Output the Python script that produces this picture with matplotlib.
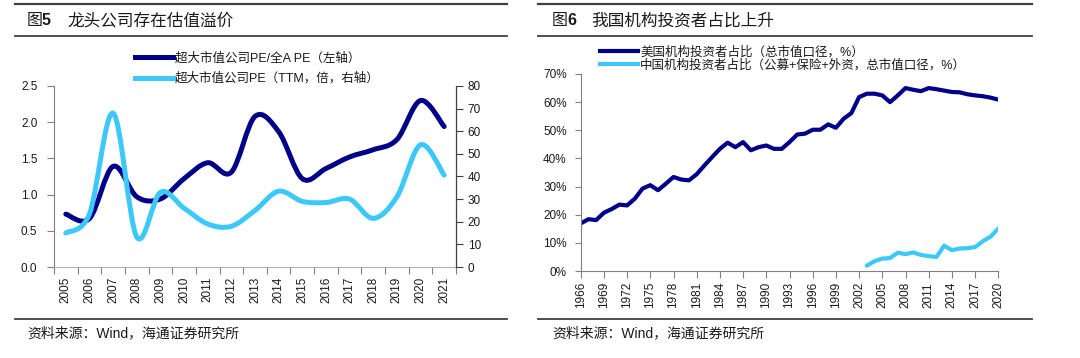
import numpy as np
import matplotlib
matplotlib.use("Agg")
import matplotlib.pyplot as plt
from matplotlib.path import Path
from matplotlib.patches import PathPatch
from matplotlib.lines import Line2D

plt.rcParams['font.family'] = ['Liberation Sans', 'Noto Sans CJK SC']
plt.rcParams['axes.unicode_minus'] = False

# ---------------- data ----------------
years_left = ['2005', '2006', '2007', '2008', '2009', '2010', '2011', '2012', '2013',
              '2014', '2015', '2016', '2017', '2018', '2019', '2020', '2021']
pe_ratio = [0.73, 0.67, 1.39, 0.97, 0.94, 1.22, 1.44, 1.31, 2.08,
            1.87, 1.22, 1.36, 1.52, 1.62, 1.76, 2.30, 1.94]
pe_ttm = [15.0, 23.5, 68.0, 13.3, 33.0, 26.0, 19.0, 18.0, 25.0,
          33.5, 29.0, 28.5, 30.0, 21.5, 31.0, 54.0, 40.6]

years_us = list(range(1966, 2021))
us_inst = [16.9, 18.4, 18.1, 20.7, 22.0, 23.6, 23.3, 25.7, 29.3, 30.5,
           28.7, 31.0, 33.4, 32.5, 32.2, 34.4, 37.5, 40.5, 43.4, 45.6,
           44.0, 45.8, 42.9, 44.0, 44.6, 43.4, 43.4, 45.8, 48.5, 48.8,
           50.2, 50.2, 52.1, 50.9, 54.1, 56.1, 61.8, 63.0, 63.0, 62.4,
           60.0, 62.4, 65.0, 64.4, 63.9, 65.0, 64.6, 64.1, 63.6, 63.5,
           62.8, 62.4, 62.1, 61.6, 60.9]
years_cn = list(range(2003, 2021))
cn_inst = [1.9, 3.5, 4.4, 4.6, 6.5, 6.0, 6.6, 5.7, 5.3, 5.0,
           9.0, 7.4, 8.0, 8.1, 8.5, 10.6, 12.2, 15.1]
us_ticks = list(range(1966, 2021, 3))

DARK = '#000088'
LIGHT = '#3CC8F8'
TXT = '#1a1a1a'
RULE = '#404040'


def smooth_path(xs, ys):
    pts = np.column_stack([np.asarray(xs, float), np.asarray(ys, float)])
    n = len(pts)
    verts = [pts[0]]
    codes = [Path.MOVETO]
    for i in range(n - 1):
        p0 = pts[i - 1] if i > 0 else pts[i]
        p1 = pts[i]
        p2 = pts[i + 1]
        p3 = pts[i + 2] if i + 2 < n else pts[i + 1]
        c1 = p1 + (p2 - p0) / 6.0
        c2 = p2 - (p3 - p1) / 6.0
        verts += [c1, c2, p2]
        codes += [Path.CURVE4] * 3
    return Path(verts, codes)


fig = plt.figure(figsize=(10.8, 3.58), dpi=100)
W, H = 1080.0, 358.0


def fx(px):
    return px / W


def fy(py):
    return 1 - py / H


# ---------------- rules, titles, footers ----------------
for (x0, x1) in [(15, 507), (538, 1032)]:
    fig.add_artist(Line2D([fx(x0), fx(x1)], [fy(3.5), fy(3.5)], color=RULE, lw=1.6))
    fig.add_artist(Line2D([fx(x0), fx(x1)], [fy(36), fy(36)], color=RULE, lw=1.3))
    fig.add_artist(Line2D([fx(x0), fx(x1)], [fy(319), fy(319)], color=RULE, lw=1.3))

ty = fy(20.5)
fig.text(fx(27), ty, '图', fontsize=11.5, va='center', color=TXT)
fig.text(fx(42), ty, '5', fontsize=11.5, fontweight='bold', va='center', color=TXT)
fig.text(fx(67), ty, '龙头公司存在估值溢价', fontsize=12, va='center', color=TXT)
fig.text(fx(552), ty, '图', fontsize=11.5, va='center', color=TXT)
fig.text(fx(567), ty, '6', fontsize=11.5, fontweight='bold', va='center', color=TXT)
fig.text(fx(591), ty, '我国机构投资者占比上升', fontsize=12, va='center', color=TXT)

fig.text(fx(27), fy(333), '资料来源：Wind，海通证券研究所', fontsize=10, va='center', color=TXT)
fig.text(fx(552), fy(333), '资料来源：Wind，海通证券研究所', fontsize=10, va='center', color=TXT)

# ---------------- left chart ----------------
ax = fig.add_axes([fx(54), fy(267), fx(456) - fx(54), fy(86) - fy(267)])
ax2 = ax.twinx()
n = len(years_left)
xc = np.arange(n) + 0.5
ax.set_xlim(0, n)
ax.set_ylim(0, 2.5)
ax2.set_ylim(0, 80)

ax.add_patch(PathPatch(smooth_path(xc, pe_ratio), fill=False, ec=DARK, lw=3.6,
                       capstyle='round', joinstyle='round'))
ax2.add_patch(PathPatch(smooth_path(xc, pe_ttm), fill=False, ec=LIGHT, lw=3.6,
                        capstyle='round', joinstyle='round'))

ax.set_yticks(np.arange(0, 2.51, 0.5))
ax.set_yticklabels([f'{v:.1f}' for v in np.arange(0, 2.51, 0.5)])
ax2.set_yticks(np.arange(0, 81, 10))
ax.set_xticks(np.arange(0, n + 1))
ax.set_xticklabels([])
ax.set_xticks(xc, minor=True)
ax.set_xticklabels(years_left, minor=True, rotation=90)
ax.tick_params(axis='x', which='major', length=5, color='#808080', width=0.8)
ax.tick_params(axis='x', which='minor', length=0, pad=7, labelsize=8.5, labelcolor=TXT)
ax.tick_params(axis='y', length=5, color='#808080', width=0.8, pad=7, labelsize=8.5, labelcolor=TXT)
ax2.tick_params(axis='y', length=5, color='#404040', width=0.8, pad=3.5, labelsize=8.5, labelcolor=TXT)

for a in (ax, ax2):
    a.spines['top'].set_visible(False)
    a.patch.set_visible(False)
ax.spines['right'].set_visible(False)
ax2.spines['left'].set_visible(False)
ax2.spines['bottom'].set_visible(False)
ax.spines['left'].set_color('#808080')
ax.spines['bottom'].set_color('#b0b0b0')
ax2.spines['right'].set_color('#404040')
ax2.spines['right'].set_linewidth(0.9)

hl = [Line2D([], [], color=DARK, lw=3.6), Line2D([], [], color=LIGHT, lw=3.6)]
fig.legend(hl, ['超大市值公司PE/全A PE（左轴）', '超大市值公司PE（TTM，倍，右轴）'],
           loc='upper left', bbox_to_anchor=(fx(135), fy(52)), frameon=False,
           fontsize=9, handlelength=3.0, handletextpad=0.2, labelspacing=0.65,
           borderpad=0, borderaxespad=0, labelcolor=TXT)

# ---------------- right chart ----------------
bx = fig.add_axes([fx(580.7), fy(271), fx(998.3) - fx(580.7), fy(74) - fy(271)])
bx.plot(years_us, us_inst, color=DARK, lw=3.0, solid_joinstyle='round', solid_capstyle='round')
bx.plot(years_cn, cn_inst, color=LIGHT, lw=3.0, solid_joinstyle='round', solid_capstyle='round')
bx.set_xlim(1966, 2020)
bx.set_ylim(0, 70)
bx.set_yticks(range(0, 71, 10))
bx.set_yticklabels([f'{v}%' for v in range(0, 71, 10)])
bx.set_xticks(us_ticks)
bx.set_xticklabels([str(y) for y in us_ticks], rotation=90)
bx.tick_params(axis='x', length=5, color='#808080', width=0.8, pad=3, labelsize=8.5, labelcolor=TXT)
bx.tick_params(axis='y', length=4, color='#808080', width=0.8, pad=6, labelsize=8.5, labelcolor=TXT)
bx.spines['top'].set_visible(False)
bx.spines['right'].set_visible(False)
bx.spines['left'].set_color('#808080')
bx.spines['bottom'].set_color('#808080')
bx.patch.set_visible(False)

hr = [Line2D([], [], color=DARK, lw=3.0), Line2D([], [], color=LIGHT, lw=3.0)]
fig.legend(hr, ['美国机构投资者占比（总市值口径，%）', '中国机构投资者占比（公募+保险+外资，总市值口径，%）'],
           loc='upper left', bbox_to_anchor=(fx(600), fy(46)), frameon=False,
           fontsize=9, handlelength=3.0, handletextpad=0.2, labelspacing=0.05,
           borderpad=0, borderaxespad=0, labelcolor=TXT)

fig.savefig('out.png', dpi=100)
